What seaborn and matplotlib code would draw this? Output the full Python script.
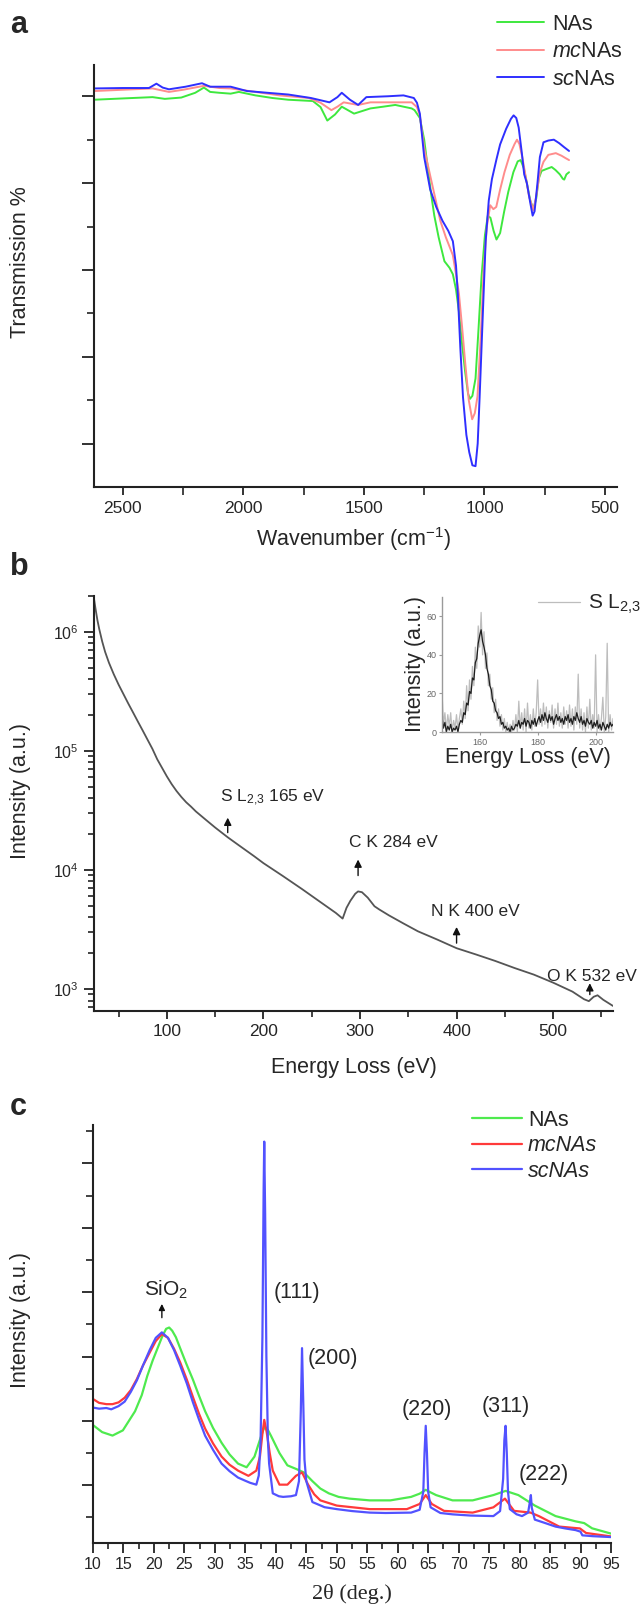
import numpy as np
import pandas as pd
import matplotlib
matplotlib.use("Agg")
import matplotlib.pyplot as plt
import seaborn as sns

# ---------------- panel a: FTIR (transmission, arbitrary units) ----------------
ftir_nas_wn = [2620, 2500, 2377, 2326, 2258, 2200, 2164, 2138, 2100, 2053, 2019, 1950, 1880, 1814,
               1712, 1680, 1652, 1620, 1592, 1541, 1473, 1420, 1370, 1302, 1290, 1268, 1250, 1234,
               1220, 1208, 1190, 1166, 1145, 1131, 1118, 1106, 1093, 1080, 1068, 1060, 1050, 1037,
               1025, 1012, 998, 986, 975, 962, 950, 935, 918, 901, 880, 862, 850, 837, 824, 810,
               797, 785, 775, 763, 745, 721, 705, 687, 675, 669, 660, 649]
ftir_nas_t = [99.2, 99.5, 99.8, 99.4, 99.7, 100.8, 102.0, 101.0, 100.8, 100.6, 101.0, 100.2, 99.6, 99.2,
              98.9, 97.5, 94.4, 95.8, 97.6, 96.0, 97.2, 97.6, 98.0, 97.2, 96.8, 95.0, 90.0, 83.0,
              77.0, 72.5, 67.5, 62.0, 60.5, 59.0, 55.5, 50.5, 43.0, 36.5, 31.5, 30.3, 31.0, 35.0,
              46.0, 58.5, 68.0, 72.5, 72.0, 69.0, 67.0, 68.5, 73.5, 78.0, 82.5, 85.0, 85.3, 83.5,
              80.0, 76.0, 74.0, 76.5, 81.0, 82.8, 83.2, 83.7, 83.0, 82.0, 81.0, 80.8, 82.0, 82.5]

ftir_mc_wn = [2620, 2500, 2377, 2309, 2250, 2164, 2100, 2053, 1950, 1850, 1729, 1680, 1635, 1610,
              1584, 1524, 1473, 1400, 1302, 1280, 1268, 1250, 1225, 1200, 1183, 1160, 1131, 1118,
              1106, 1093, 1080, 1065, 1051, 1040, 1029, 1015, 1003, 990, 976, 963, 951, 935, 917,
              895, 875, 865, 855, 843, 832, 815, 797, 785, 770, 755, 735, 704, 680, 665, 649]
ftir_mc_t = [101.2, 101.5, 101.8, 101.0, 101.5, 102.4, 101.9, 101.8, 101.0, 100.2, 99.6, 98.5, 96.8, 97.6,
             98.6, 98.0, 98.6, 98.6, 98.6, 97.5, 95.6, 88.0, 81.7, 75.5, 71.3, 67.5, 63.4, 59.0,
             54.6, 47.0, 38.7, 30.0, 25.6, 27.0, 30.8, 45.0, 60.2, 70.0, 74.9, 74.0, 74.5, 78.5, 82.5,
             86.5, 89.0, 90.0, 89.0, 86.0, 82.5, 77.0, 73.7, 77.0, 82.5, 84.9, 86.5, 86.9, 86.3, 85.8,
             85.3]

ftir_sc_wn = [2620, 2500, 2392, 2361, 2335, 2309, 2240, 2172, 2138, 2053, 1985, 1900, 1814, 1720,
              1643, 1610, 1592, 1558, 1524, 1490, 1400, 1336, 1293, 1280, 1268, 1250, 1225, 1200,
              1174, 1150, 1131, 1118, 1110, 1100, 1089, 1075, 1063, 1050, 1037, 1028, 1020, 1008,
              995, 982, 969, 950, 935, 910, 890, 879, 868, 858, 845, 835, 824, 810, 800, 792, 780,
              770, 755, 735, 712, 690, 670, 649]
ftir_sc_t = [101.8, 101.9, 101.9, 102.9, 102.0, 101.6, 102.2, 103.0, 102.2, 102.2, 101.2, 100.8, 100.4,
             99.6, 98.6, 99.8, 100.8, 99.2, 98.0, 99.8, 100.0, 100.2, 99.6, 98.5, 96.0, 86.0, 78.5,
             74.5, 71.3, 69.0, 66.6, 61.0, 54.0, 42.0, 30.7, 22.0, 18.0, 15.0, 14.8, 20.0, 30.7,
             48.0, 66.6, 76.0, 80.9, 85.5, 88.9, 92.5, 94.8, 95.6, 95.0, 92.8, 87.0, 82.0, 80.0,
             75.5, 72.5, 73.5, 80.0, 86.0, 89.4, 89.8, 90.0, 89.2, 88.3, 87.4]

# ---------------- panel b: EELS (log intensity) ----------------
eels_ev = [24.3, 26, 28, 30, 33, 36, 40, 45, 50, 55, 60, 65, 70, 75, 80, 85, 90, 95, 100, 105,
           110, 115, 120, 125, 130, 140, 150, 163, 175, 190, 200, 220, 240, 260, 275, 282, 286,
           290, 295, 298, 302, 308, 315, 320, 330, 345, 360, 380, 400, 420, 440, 460, 480, 500,
           520, 532, 537, 542, 546, 552, 558, 562]
eels_int = [1.95e6, 1.58e6, 1.26e6, 1.05e6, 8.3e5, 6.8e5, 5.5e5, 4.4e5, 3.6e5, 3.0e5, 2.5e5, 2.1e5,
            1.76e5, 1.48e5, 1.24e5, 1.04e5, 8.5e4, 7.2e4, 6.1e4, 5.25e4, 4.6e4, 4.1e4, 3.7e4, 3.4e4,
            3.1e4, 2.65e4, 2.27e4, 1.88e4, 1.6e4, 1.31e4, 1.14e4, 8.9e3, 6.9e3, 5.3e3, 4.35e3, 3.9e3,
            4.8e3, 5.5e3, 6.3e3, 6.6e3, 6.5e3, 5.85e3, 4.95e3, 4.65e3, 4.15e3, 3.55e3, 3.05e3, 2.6e3,
            2.2e3, 1.95e3, 1.72e3, 1.5e3, 1.32e3, 1.13e3, 950, 820, 790, 860, 885, 810, 755, 720]

# inset: S L2,3 edge, 0.5 eV steps from 147 to 206 eV
sl23_raw = [21, 4, 10, 1, 9, 3, 10, 0, 6, 2, 9, 1, 7, 12, 4, 16, 7, 24, 11, 27, 17, 34, 24, 44,
            33, 55, 44, 62, 40, 52, 33, 41, 24, 30, 17, 23, 10, 17, 6, 12, 3, 9, 1, 7, 0, 5, 0,
            4, 0, 6, 1, 9, 0, 16, 2, 10, 1, 12, 0, 15, 2, 9, 1, 12, 3, 10, 27, 4, 12, 3, 15, 4,
            13, 2, 11, 5, 14, 2, 12, 4, 15, 3, 10, 2, 13, 4, 11, 2, 14, 3, 12, 1, 13, 4, 30, 2,
            12, 1, 10, 0, 13, 2, 17, 1, 9, 2, 40, 0, 9, 1, 7, 18, 0, 8, 46, 0, 9, 1, 7]
sl23_smooth = [8, 2, 5, 0, 3, 1, 4, 0, 2, 1, 3, 0, 4, 6, 5, 10, 9, 15, 14, 21, 20, 28, 27, 36,
               38, 46, 50, 53, 47, 44, 40, 33, 30, 24, 22, 16, 15, 11, 10, 7, 8, 4, 5, 2, 3, 1,
               2, 0, 3, 1, 2, 4, 3, 6, 2, 5, 4, 7, 3, 6, 5, 2, 6, 4, 7, 3, 6, 8, 5, 9, 6, 10, 7,
               5, 9, 6, 8, 4, 7, 9, 6, 8, 5, 7, 4, 8, 6, 9, 5, 7, 4, 8, 6, 10, 7, 5, 8, 4, 6, 3,
               7, 5, 4, 6, 2, 5, 3, 6, 2, 4, 1, 5, 3, 1, 4, 2, 5, 3, 4]

# ---------------- panel c: XRD ----------------
xrd_nas_2t = [10.0, 11.5, 13.2, 14.9, 16.9, 18.0, 18.9, 19.8, 20.6, 21.4, 22.0, 22.5, 23.0, 23.6,
              24.3, 25.3, 26.4, 27.4, 28.4, 29.7, 31.1, 32.4, 33.8, 35.2, 36.5, 37.3, 37.9, 38.2,
              38.7, 39.2, 40.6, 41.9, 43.3, 44.6, 46.0, 47.3, 48.7, 50.3, 52.1, 55.4, 58.8, 62.2,
              63.6, 64.6, 65.4, 66.3, 69.0, 72.3, 75.7, 77.7, 79.8, 82.5, 85.9, 89.2, 90.6, 91.9,
              95.0]
xrd_nas_i = [193.5, 182.6, 177.2, 185.3, 215, 240, 269.6, 294, 313, 332, 343, 345, 340, 330,
             313, 289, 264, 239, 215, 189, 166, 148, 133.7, 128, 144.6, 168, 185, 190.8,
             186, 177, 150, 131, 125.5, 120, 106.5, 95, 87.5, 82, 79.3, 76.6, 76.6, 82,
             87, 93, 89, 84.8, 76.6, 76.6, 84.8, 91.3, 84.8, 68.5, 52.2, 44, 41.3, 33.2,
             25]

xrd_mc_2t = [10.0, 11.0, 12.2, 13.2, 14.2, 15.2, 16.2, 17.2, 18.2, 19.3, 20.3, 21.3, 22.3, 23.3,
             24.3, 25.4, 26.4, 27.4, 28.4, 29.7, 31.1, 32.4, 33.8, 35.5, 36.8, 37.4, 37.8, 38.1,
             38.5, 39.0, 39.5, 40.6, 41.9, 43.3, 44.3, 45.3, 46.3, 47.3, 50.0, 55.4, 61.5, 63.6,
             64.6, 65.6, 67.6, 72.3, 75.7, 77.6, 79.1, 81.8, 83.2, 86.5, 89.9, 90.9, 95.0]
xrd_mc_i = [234, 228, 226, 226, 228.8, 236, 247.8, 265, 286, 306, 324, 334.8, 329, 312,
            291, 264, 237, 211, 188, 165, 144.6, 132, 122.8, 114.7, 122.8, 145, 180, 201.6,
            182.6, 150, 122.8, 101, 101, 114.7, 120, 101, 86, 76.6, 68.5, 63, 63, 71,
            84.8, 71, 60.3, 57.6, 65.8, 79.3, 60.3, 57.6, 52, 35.9, 33, 26, 20.6]

xrd_sc_2t = [10.0, 11.0, 12.2, 13.0, 14.2, 15.2, 16.2, 17.2, 18.2, 19.3, 20.3, 21.3, 22.3, 23.3,
             24.3, 25.4, 26.4, 27.4, 28.4, 29.7, 31.1, 32.4, 33.8, 35.0, 35.8, 36.8, 37.2, 37.5,
             37.8, 38.0, 38.1, 38.25, 38.45, 38.7, 38.9, 39.5, 40.5, 41.2, 42.5, 43.3, 43.8, 44.1,
             44.3, 44.5, 44.7, 45.0, 46.0, 48.0, 50.0, 52.5, 55.4, 58.0, 62.2, 63.6, 64.2, 64.4,
             64.6, 64.8, 65.0, 65.4, 67.0, 69.0, 72.0, 75.7, 76.8, 77.3, 77.5, 77.7, 77.9, 78.1,
             78.4, 79.5, 80.4, 81.4, 81.7, 81.85, 82.0, 82.5, 84.0, 85.9, 87.5, 89.2, 90.0, 90.3,
             92.0, 95.0]
xrd_sc_i = [220.7, 219, 220, 218, 223, 230, 245, 263, 286, 310, 329, 337.5, 329, 310,
            286, 258, 228.8, 202, 177, 155, 133.7, 122, 112, 107, 103.8, 101, 115, 170,
            330, 560, 633.7, 520, 300, 170, 133.7, 87.5, 83, 82, 83, 84.8, 106.5, 215,
            313, 230, 140, 106.5, 74, 66, 63, 60, 57.6, 57, 57.6, 62, 90, 150,
            192.4, 150, 90, 65.8, 57, 54.9, 53, 52.2, 60, 110, 170, 192.4, 150, 90,
            63, 55, 52.2, 57.6, 75, 84.8, 65, 46.7, 42, 35.9, 33, 30.4, 28, 22.3,
            21, 19.6]

series_labels = ["NAs", "mcNAs", "scNAs"]

FIG_W, FIG_H = 644, 1610


def rect(left, top, right, bottom):
    return [left / FIG_W, 1 - bottom / FIG_H, (right - left) / FIG_W, (bottom - top) / FIG_H]


def ftext(fig, x, y, s, **kw):
    return fig.text(x / FIG_W, 1 - y / FIG_H, s, **kw)


def style_axis(ax, maj=6, mnr=3.5):
    for side in ("top", "right"):
        ax.spines[side].set_visible(False)
    for side in ("left", "bottom"):
        ax.spines[side].set_linewidth(1.5)
        ax.spines[side].set_color("#222222")
    ax.tick_params(which="major", direction="out", length=maj, width=1.3, color="#222222")
    ax.tick_params(which="minor", direction="out", length=mnr, width=1.2, color="#222222")


def main() -> None:
    sns.set_theme(style="ticks")
    plt.rcParams["font.family"] = ["Liberation Sans", "DejaVu Sans"]
    plt.rcParams["mathtext.fontset"] = "custom"
    plt.rcParams["mathtext.rm"] = "Liberation Sans"
    plt.rcParams["mathtext.it"] = "Liberation Sans:italic"
    plt.rcParams["mathtext.bf"] = "Liberation Sans:bold"

    fig = plt.figure(figsize=(FIG_W / 100, FIG_H / 100), dpi=100)
    lab_fs = 15.5
    tick_fs = 12.5

    # ---------- a ----------
    ax_a = fig.add_axes(rect(94, 65, 617, 487))
    cols_a = ["#3ee83e", "#ff8c8c", "#2f2fff"]
    for wn, tr, c, lab in zip([ftir_nas_wn, ftir_mc_wn, ftir_sc_wn],
                              [ftir_nas_t, ftir_mc_t, ftir_sc_t], cols_a,
                              ["NAs", r"$\mathit{mc}$NAs", r"$\mathit{sc}$NAs"]):
        sns.lineplot(x=wn, y=tr, ax=ax_a, color=c, lw=1.4, label=lab, sort=False, estimator=None)
    ax_a.set_xlim(2620, 450)
    ax_a.set_ylim(10, 107.2)
    ax_a.set_xticks([2500, 2000, 1500, 1000, 500])
    ax_a.set_xticks([2250, 1750, 1250, 750], minor=True)
    ax_a.set_yticks([20, 40, 60, 80, 100])
    ax_a.set_yticks([30, 50, 70, 90], minor=True)
    ax_a.set_yticklabels([])
    style_axis(ax_a, maj=9, mnr=5)
    ax_a.tick_params(axis="x", which="major", length=6, labelsize=tick_fs, pad=4)
    ax_a.tick_params(axis="x", which="minor", length=6)
    ax_a.set_xlabel("")
    ax_a.set_ylabel("")
    ax_a.legend(loc="upper left", bbox_to_anchor=(497 / FIG_W, 1 - 14 / FIG_H),
                bbox_transform=fig.transFigure, frameon=False, fontsize=lab_fs,
                handlelength=2.2, handletextpad=0.35, labelspacing=0.3,
                borderpad=0, borderaxespad=0)
    ftext(fig, 10, 33, "a", fontsize=22, fontweight="bold", va="baseline")
    ftext(fig, 21, 262, "Transmission %", rotation=90, ha="center", va="center", fontsize=lab_fs)
    ftext(fig, 354, 539, r"Wavenumber (cm$^{-1}$)", ha="center", va="center", fontsize=lab_fs)

    # ---------- b ----------
    ax_b = fig.add_axes(rect(93.5, 596, 613, 1011))
    sns.lineplot(x=eels_ev, y=eels_int, ax=ax_b, color="#555555", lw=1.3, sort=False, estimator=None)
    ax_b.set_yscale("log")
    ax_b.set_xlim(24, 562)
    ax_b.set_ylim(653, 2e6)
    ax_b.set_xticks([100, 200, 300, 400, 500])
    ax_b.set_xticks([50, 150, 250, 350, 450, 550], minor=True)
    style_axis(ax_b, maj=6, mnr=4)
    ax_b.tick_params(axis="both", which="major", labelsize=tick_fs)
    ax_b.tick_params(axis="y", which="major", labelsize=11.5, length=7)
    ftext(fig, 10, 575, "b", fontsize=22, fontweight="bold", va="baseline")
    ftext(fig, 21, 791, "Intensity (a.u.)", rotation=90, ha="center", va="center", fontsize=lab_fs)
    ftext(fig, 354, 1068, "Energy Loss (eV)", ha="center", va="center", fontsize=lab_fs)

    arrow_kw = dict(arrowstyle="-|>", color="#111111", lw=1.0, mutation_scale=11)
    for x0, tail, tip in [(163, 1.95e4, 2.9e4), (298, 8.5e3, 1.29e4),
                          (400, 2.3e3, 3.5e3), (538, 850, 1.18e3)]:
        ax_b.annotate("", xy=(x0, tip), xytext=(x0, tail), arrowprops=arrow_kw)
    ann_fs = 12.5
    ax_b.text(155, 3.7e4, r"S L$_{2{,}3}$ 165 eV", fontsize=ann_fs, va="baseline")
    ax_b.text(289, 1.56e4, "C K 284 eV", fontsize=ann_fs, va="baseline")
    ax_b.text(374, 4.1e3, "N K 400 eV", fontsize=ann_fs, va="baseline")
    ax_b.text(494, 1.16e3, "O K 532 eV", fontsize=ann_fs, va="baseline", clip_on=False)

    # inset
    ax_in = fig.add_axes(rect(442, 597, 613, 732))
    ev_grid = np.linspace(147, 206, len(sl23_raw))
    sns.lineplot(x=ev_grid, y=sl23_raw, ax=ax_in, color="#bdbdbd", lw=0.9, label=r"S L$_{2{,}3}$",
                 sort=False, estimator=None)
    sns.lineplot(x=ev_grid, y=sl23_smooth, ax=ax_in, color="#1e1e1e", lw=0.9, sort=False,
                 estimator=None)
    ax_in.set_xlim(147, 206)
    ax_in.set_ylim(0, 70)
    ax_in.set_xticks([160, 180, 200])
    ax_in.set_yticks([0, 20, 40, 60])
    for side in ("top", "right"):
        ax_in.spines[side].set_visible(False)
    for side in ("left", "bottom"):
        ax_in.spines[side].set_color("#9a9a9a")
        ax_in.spines[side].set_linewidth(1.0)
    ax_in.tick_params(direction="out", length=2.5, width=0.8, color="#9a9a9a",
                      labelsize=6.5, labelcolor="#666666", pad=1.5)
    ax_in.set_xlabel("")
    ax_in.set_ylabel("")
    handles, _ = ax_in.get_legend_handles_labels()
    ax_in.legend(handles=handles[:1], labels=[r"S L$_{2{,}3}$"], loc="upper left",
                 bbox_to_anchor=(538 / FIG_W, 1 - 593 / FIG_H), bbox_transform=fig.transFigure,
                 frameon=False, fontsize=15, handlelength=2.0, handletextpad=0.4,
                 borderpad=0, borderaxespad=0)
    ftext(fig, 415, 664, "Intensity (a.u.)", rotation=90, ha="center", va="center", fontsize=lab_fs)
    ftext(fig, 528, 757, "Energy Loss (eV)", ha="center", va="center", fontsize=lab_fs)

    # ---------- c ----------
    ax_c = fig.add_axes(rect(93, 1125, 611, 1543))
    cols_c = ["#4eea4e", "#ff3a3a", "#5252ff"]
    for tt, ii, c, lab in zip([xrd_nas_2t, xrd_mc_2t, xrd_sc_2t], [xrd_nas_i, xrd_mc_i, xrd_sc_i],
                              cols_c, series_labels):
        sns.lineplot(x=tt, y=ii, ax=ax_c, color=c, lw=1.6, label=lab, sort=False, estimator=None)
    ax_c.set_xlim(10, 95)
    ax_c.set_ylim(10.4, 659.5)
    ax_c.set_xticks(np.arange(10, 96, 5))
    ax_c.set_xticks(np.arange(12.5, 95, 5), minor=True)
    ax_c.set_yticks([100, 200, 300, 400, 500, 600])
    ax_c.set_yticks([50, 150, 250, 350, 450, 550, 650], minor=True)
    ax_c.set_yticklabels([])
    style_axis(ax_c, maj=8, mnr=5)
    ax_c.tick_params(axis="x", which="major", length=7, labelsize=11.5, pad=3)
    ax_c.tick_params(axis="x", which="minor", length=4.5)
    ax_c.set_xlabel("")
    ax_c.set_ylabel("")
    leg = ax_c.legend(loc="upper left", bbox_to_anchor=(472 / FIG_W, 1 - 1110 / FIG_H),
                      bbox_transform=fig.transFigure, frameon=False, fontsize=lab_fs,
                      handlelength=2.3, handletextpad=0.3, labelspacing=0.2,
                      borderpad=0, borderaxespad=0)
    for t in leg.get_texts()[1:]:
        t.set_style("italic")

    ax_c.annotate("", xy=(21.3, 386), xytext=(21.3, 356),
                  arrowprops=dict(arrowstyle="-|>", color="#111111", lw=1.0, mutation_scale=9))
    ax_c.text(22.0, 394, r"SiO$_2$", fontsize=15, ha="center", va="baseline")
    pk_fs = 15.5
    for x0, y0, s in [(43.4, 400, "(111)"), (49.4, 297, "(200)"), (64.8, 218, "(220)"),
                      (77.8, 223, "(311)"), (84.0, 117, "(222)")]:
        ax_c.text(x0, y0, s, fontsize=pk_fs, ha="center", va="center")

    ftext(fig, 10, 1115, "c", fontsize=22, fontweight="bold", va="baseline")
    ftext(fig, 21, 1320, "Intensity (a.u.)", rotation=90, ha="center", va="center", fontsize=lab_fs)
    ftext(fig, 352, 1594, "2θ (deg.)", ha="center", va="center", fontsize=16,
          family=["Liberation Serif", "DejaVu Serif"])

    fig.savefig("out.png", dpi=100)


if __name__ == "__main__":
    main()
